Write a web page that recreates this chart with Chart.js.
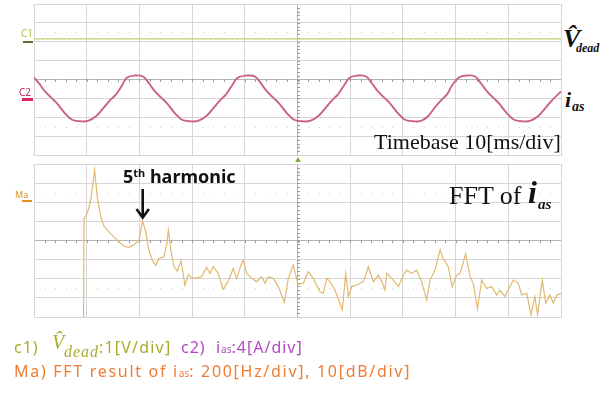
<!DOCTYPE html>
<html>
<head>
<meta charset="utf-8">
<script src="https://cdn.jsdelivr.net/npm/chart.js@4.4.1/dist/chart.umd.min.js"></script>
<style>
  html, body { margin: 0; padding: 0; background: #fff; }
  body { width: 613px; height: 394px; position: relative; overflow: hidden; font-family: "Noto Sans", sans-serif; }
  .wrap { position: absolute; }
  .lbl { position: absolute; white-space: nowrap; line-height: 1; }
  .serif { font-family: "Liberation Serif", "DejaVu Serif", serif; }
  .mark { position: absolute; }
</style>
</head>
<body>

<div class="wrap" style="left:32px;top:2px;width:531px;height:155px"><canvas id="scope"></canvas></div>
<div class="wrap" style="left:32px;top:162px;width:531px;height:157px"><canvas id="fft"></canvas></div>

<!-- channel markers on the left edge -->
<div class="lbl" style="left:21px;top:28px;font-size:10px;color:#b3b64a">C1</div>
<div class="mark" style="left:23px;top:41px;width:10px;height:2px;background:#666a28"></div>
<div class="lbl" style="left:19px;top:87px;font-size:10px;color:#cc2a66">C2</div>
<div class="mark" style="left:22px;top:98px;width:11px;height:3px;background:#d8285f"></div>
<div class="lbl" style="left:15px;top:190px;font-size:9px;color:#e0902a">Ma</div>
<div class="mark" style="left:22px;top:200px;width:10px;height:2px;background:#e09020"></div>

<!-- trigger position marker -->
<div class="mark" style="left:295px;top:157px;width:0;height:0;border-left:3px solid transparent;border-right:3px solid transparent;border-bottom:5px solid #7cb03a"></div>

<!-- trace names on the right -->
<div class="lbl serif" style="left:563px;top:26px;font-size:26px;font-style:italic;font-weight:bold;color:#111">V&#770;</div>
<div class="lbl serif" style="left:576px;top:42px;font-size:12px;font-style:italic;font-weight:bold;color:#111">dead</div>
<div class="lbl serif" style="left:565px;top:89px;font-size:22px;font-style:italic;font-weight:bold;color:#111">i</div>
<div class="lbl serif" style="left:572px;top:100px;font-size:14px;font-style:italic;font-weight:bold;color:#111">as</div>

<div class="lbl serif" style="left:374px;top:131px;font-size:22px;color:#111">Timebase 10[ms/div]</div>

<div class="lbl serif" style="left:449px;top:183px;font-size:26px;color:#111">FFT of</div>
<div class="lbl serif" style="left:528px;top:176px;font-size:32px;font-style:italic;font-weight:bold;color:#111">i</div>
<div class="lbl serif" style="left:538px;top:197px;font-size:15px;font-style:italic;font-weight:bold;color:#111">as</div>

<div class="lbl" style="left:123px;top:167px;font-size:18px;font-weight:bold;color:#111">5<sup style="font-size:11px;vertical-align:6px">th</sup> harmonic</div>
<svg class="mark" style="left:134px;top:188px" width="18" height="32" viewBox="0 0 18 32">
  <line x1="8.7" y1="1" x2="8.7" y2="29" stroke="#111" stroke-width="2.6"/>
  <polyline points="2.5,21 8.7,29.5 14.9,21" fill="none" stroke="#111" stroke-width="2.6"/>
</svg>

<!-- channel settings -->
<div class="lbl" style="left:14px;top:339px;font-size:16px;color:#a9ab2c;letter-spacing:1px">c1)</div>
<div class="lbl serif" style="left:52px;top:332px;font-size:20px;font-style:italic;color:#a9ab2c">V&#770;</div>
<div class="lbl serif" style="left:64px;top:344px;font-size:16px;font-style:italic;color:#a9ab2c;letter-spacing:1px">dead</div>
<div class="lbl" style="left:99px;top:339px;font-size:16px;color:#a9ab2c;letter-spacing:1.2px">:1[V/div]</div>
<div class="lbl" style="left:181px;top:339px;font-size:16px;color:#b448c4;letter-spacing:1px">c2)&nbsp; i<span style="font-size:10px;letter-spacing:0">as</span>:4[A/div]</div>
<div class="lbl" style="left:14px;top:363px;font-size:16px;color:#f07c32;letter-spacing:1.7px">Ma) FFT result of i<span style="font-size:10px;letter-spacing:0">as</span>: 200[Hz/div], 10[dB/div]</div>

<script>
// ---- channel 1: dead-time voltage estimate (1 V/div) ----
const vdeadTimeMs = [0, 100];
const vdeadVolts  = [0.15, 0.15];

// ---- channel 2: phase current i_as (4 A/div), 10 ms/div ----
const iasTimeMs = [
  0, 0.95, 2.09, 3.23, 4.36, 5.88, 7.21, 8.73,
  10.25, 11.76, 13.28, 14.42, 15.56, 16.70, 17.65, 19.16,
  20.68, 21.82, 22.96, 24.10, 25.24, 26.75, 28.08, 29.60,
  31.12, 32.64, 34.16, 35.29, 36.43, 37.57, 38.71, 40.42,
  41.93, 43.07, 44.21, 45.35, 46.49, 48.01, 49.34, 50.85,
  52.37, 53.89, 55.41, 56.55, 57.68, 58.82, 59.96, 61.48,
  63.00, 64.14, 65.27, 66.41, 67.55, 69.07, 70.40, 71.92,
  73.43, 74.76, 76.09, 77.23, 78.37, 79.32, 80.64, 82.16,
  83.68, 84.82, 85.96, 87.10, 88.23, 89.75, 91.08, 92.60,
  94.12, 95.63, 97.15, 98.29, 99.43, 100
];
const iasAmps = [
  4.42, 3.16, 1.47, 0.21, -1.05, -3.16, -4.53, -4.84,
  -4.78, -3.79, -1.89, -0.42, 0.84, 2.74, 4.42, 4.84,
  4.63, 3.16, 1.47, 0.21, -1.05, -3.16, -4.53, -4.84,
  -4.78, -3.79, -1.89, -0.42, 0.84, 2.74, 4.42, 4.84,
  4.63, 3.16, 1.47, 0.21, -1.05, -3.16, -4.53, -4.84,
  -4.78, -3.79, -1.89, -0.42, 0.84, 2.74, 4.42, 4.84,
  4.63, 3.16, 1.47, 0.21, -1.05, -3.16, -4.53, -4.84,
  -4.78, -3.79, -1.89, -0.42, 0.84, 2.74, 4.42, 4.84,
  4.63, 3.16, 1.47, 0.21, -1.05, -3.16, -4.53, -4.84,
  -4.78, -3.79, -1.89, -0.42, 0.84, 1.47
];

// ---- math channel Ma: FFT of i_as (200 Hz/div, 10 dB/div) ----
const fftFreqHz = [
  188, 190, 202, 215, 230, 240, 253, 266, 291, 316, 342, 361, 380, 398,
  412, 424, 436, 449, 462, 474, 493, 504, 510, 519, 531, 544, 558, 573,
  586, 598, 611, 636, 655, 668, 680, 699, 717, 737, 756, 769, 788, 794,
  807, 826, 845, 864, 877, 889, 908, 927, 950, 965, 984, 1002, 1022, 1041,
  1060, 1085, 1098, 1111, 1123, 1142, 1161, 1170, 1183, 1193, 1206, 1225, 1250, 1269,
  1288, 1307, 1320, 1332, 1339, 1358, 1383, 1402, 1414, 1433, 1452, 1471, 1490, 1503,
  1522, 1541, 1553, 1572, 1587, 1604, 1617, 1638, 1655, 1667, 1683, 1699, 1718, 1737,
  1756, 1768, 1787, 1800, 1819, 1838, 1851, 1870, 1886, 1901, 1911, 1929, 1942, 1958,
  1971, 1984, 2000
];
const fftLevelDb = [
  -40, 11.5, 14.1, 20.8, 37.0, 22.9, 12.5, 7.3, 3.6, 0.2, -3.0, -3.6, -2.1, -0.2,
  10.2, 4.7, -5.1, -10.3, -13.0, -9.4, -8.5, -1.6, 5.5, -4.7, -13.5, -16.1, -10.4, -23.4,
  -17.7, -19.4, -19.8, -18.9, -14.1, -17.2, -13.7, -17.2, -25.5, -21.4, -14.6, -19.8, -12.0, -10.3,
  -17.2, -19.8, -21.5, -18.9, -22.4, -18.9, -19.8, -24.1, -32.3, -19.8, -12.8, -22.9, -22.4, -16.3,
  -19.8, -26.7, -27.6, -19.8, -21.5, -25.9, -32.8, -36.3, -17.2, -29.3, -24.1, -23.3, -21.5, -13.7,
  -21.5, -18.1, -21.5, -25.9, -17.2, -19.8, -24.1, -18.1, -15.5, -17.2, -15.5, -21.5, -31.1, -20.7,
  -15.5, -4.9, -9.4, -13.7, -24.1, -18.1, -17.2, -7.0, -18.9, -22.4, -35.7, -20.7, -25.0, -24.1,
  -28.5, -25.9, -29.3, -25.9, -20.7, -22.4, -28.5, -27.6, -38.9, -29.3, -38.9, -20.7, -32.8, -28.5,
  -32.8, -28.5, -27.6
];

const zip = (xs, ys) => xs.map((x, i) => ({ x, y: ys[i] }));

const GRID = '#d6d6d6';
const CENTRE = '#b4b4b4';

// Centre-cross minor ticks and the faint dotted rows of the scope graticule
const graticule = {
  id: 'graticule',
  beforeDatasetsDraw(chart) {
    const { ctx, scales } = chart;
    const xs = scales.x, ys = scales.y;
    const xSpan = xs.max - xs.min, ySpan = ys.max - ys.min;
    const xc = xs.getPixelForValue(xs.min + xSpan / 2);
    const yc = ys.getPixelForValue(ys.min + ySpan / 2);
    ctx.save();
    ctx.fillStyle = '#9a9a9a';
    for (let i = 1; i < 50; i++) {
      const px = xs.getPixelForValue(xs.min + i * xSpan / 50);
      ctx.fillRect(Math.round(px), Math.round(yc) - 1, 1, 3);
    }
    for (let j = 1; j < 40; j++) {
      const py = ys.getPixelForValue(ys.min + j * ySpan / 40);
      ctx.fillRect(Math.round(xc) - 1, Math.round(py), 3, 1);
    }
    ctx.fillStyle = '#cfcfcf';
    [1.5 / 8, 6.5 / 8].forEach(f => {
      const py = Math.round(ys.getPixelForValue(ys.min + f * ySpan));
      for (let i = 1; i < 50; i++) {
        if (i % 5 === 0) continue;
        const px = xs.getPixelForValue(xs.min + i * xSpan / 50);
        ctx.fillRect(Math.round(px), py, 1, 1);
      }
    });
    ctx.restore();
  }
};

function gridScale(min, max, step) {
  const mid = (min + max) / 2;
  return {
    type: 'linear', min, max,
    ticks: { display: false, stepSize: step },
    grid: {
      drawTicks: false,
      lineWidth: 1,
      color: c => (Math.abs(c.tick.value - mid) < 1e-9 ? CENTRE : GRID)
    },
    border: { display: true, color: GRID }
  };
}

const common = {
  responsive: true,
  maintainAspectRatio: false,
  animation: false,
  layout: { padding: 2 },
  plugins: { legend: { display: false }, tooltip: { enabled: false } },
  elements: { point: { radius: 0 } }
};

new Chart(document.getElementById('scope'), {
  type: 'line',
  data: {
    datasets: [
      {
        label: 'Vdead',
        data: zip(vdeadTimeMs, vdeadVolts),
        yAxisID: 'c1',
        borderColor: '#c9cd6e',
        borderWidth: 1.4
      },
      {
        label: 'ias',
        data: zip(iasTimeMs, iasAmps),
        yAxisID: 'c2',
        borderColor: '#c8628c',
        borderWidth: 1.9,
        tension: 0.4
      }
    ]
  },
  options: {
    ...common,
    scales: {
      x: gridScale(0, 100, 10),
      y: gridScale(-4, 4, 1),
      c1: { type: 'linear', min: -6, max: 2, display: false },
      c2: { type: 'linear', min: -12, max: 20, display: false }
    }
  },
  plugins: [graticule]
});

new Chart(document.getElementById('fft'), {
  type: 'line',
  data: {
    datasets: [
      {
        label: 'FFT of ias',
        data: zip(fftFreqHz, fftLevelDb),
        borderColor: '#e3b870',
        borderWidth: 1.2,
        tension: 0
      }
    ]
  },
  options: {
    ...common,
    scales: {
      x: gridScale(0, 2000, 200),
      y: gridScale(-40, 40, 10)
    }
  },
  plugins: [graticule]
});
</script>
</body>
</html>
